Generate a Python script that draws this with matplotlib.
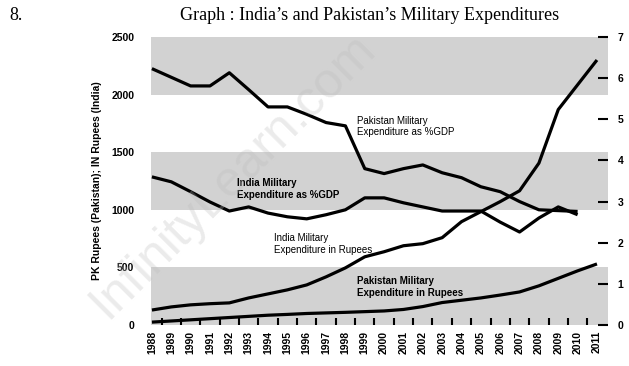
import matplotlib
matplotlib.use("Agg")
import matplotlib.pyplot as plt
import numpy as np

# values
years = list(range(1988, 2012))

india_rupees = [130, 157, 175, 185, 192, 235, 270, 305, 348, 418, 496, 592,
                636, 688, 706, 758, 897, 984, 1071, 1165, 1405, 1870, 2085, 2300]
pak_rupees = [25, 35, 45, 55, 65, 75, 85, 92, 100, 105, 110, 116,
              122, 135, 160, 195, 215, 235, 260, 287, 340, 405, 470, 530]

# %GDP series stop at 2010
gdp_years = list(range(1988, 2011))
pak_gdp = [6.23, 6.02, 5.81, 5.81, 6.13, 5.72, 5.30, 5.30, 5.12, 4.92, 4.84, 3.80,
           3.68, 3.80, 3.89, 3.70, 3.58, 3.36, 3.24, 3.00, 2.80, 2.78, 2.76]
india_gdp = [3.60, 3.48, 3.24, 2.99, 2.77, 2.87, 2.72, 2.63, 2.58, 2.68, 2.80, 3.09,
             3.09, 2.97, 2.87, 2.77, 2.77, 2.77, 2.50, 2.26, 2.60, 2.87, 2.68]

left_ticks = [0, 500, 1000, 1500, 2000, 2500]
right_ticks = [0, 1, 2, 3, 4, 5, 6, 7]
bands = [(0, 500), (1000, 1500), (2000, 2500)]

sans = ['Liberation Sans', 'DejaVu Sans']
serif = ['Liberation Serif', 'DejaVu Serif']

fig = plt.figure(figsize=(6.29, 3.66), dpi=100)
ax = fig.add_axes([0.240, 0.112, 0.7266, 0.787])
ax2 = ax.twinx()

for lo, hi in bands:
    ax.axhspan(lo, hi, color='#d2d2d2', lw=0, zorder=0)

ax.plot(years, india_rupees, color='black', lw=2.3, solid_capstyle='butt')
ax.plot(years, pak_rupees, color='black', lw=2.3, solid_capstyle='butt')
ax2.plot(gdp_years, pak_gdp, color='black', lw=2.3, solid_capstyle='butt')
ax2.plot(gdp_years, india_gdp, color='black', lw=2.3, solid_capstyle='butt')

ax.set_xlim(1987.95, 2011.57)
ax.set_ylim(0, 2500)
ax2.set_ylim(0, 7)

for a in (ax, ax2):
    for s in a.spines.values():
        s.set_visible(False)

ax.set_xticks(years)
ax.set_xticklabels([str(y) for y in years], rotation=90, family=sans,
                   fontsize=7.5, fontweight='bold')
ax.set_xticks([y + 0.5 for y in years[:-1]], minor=True)
ax.tick_params(axis='x', which='major', length=0, pad=4)
ax.tick_params(axis='x', which='minor', direction='in', length=5, width=1.5,
               color='black')

ax.set_yticks(left_ticks)
ax.set_yticklabels([str(v) for v in left_ticks], family=sans, fontsize=7.5,
                   fontweight='bold')
ax.tick_params(axis='y', length=0, pad=12)

ax2.set_yticks(right_ticks)
ax2.set_yticklabels([str(v) for v in right_ticks], family=sans, fontsize=7.5,
                    fontweight='bold')
ax2.tick_params(axis='y', direction='in', length=7.5, width=1.5, pad=7)

ax.set_ylabel('PK Rupees (Pakistan); IN Rupees (India)', family=sans,
              fontsize=7.5, fontweight='bold', labelpad=7)

# series labels
lab = dict(family=sans, fontsize=7, linespacing=1.2, va='top', ha='left')
ax.text(1998.6, 1815, 'Pakistan Military\nExpenditure as %GDP', **lab)
ax.text(1992.4, 1275, 'India Military\nExpenditure as %GDP',
        fontweight='bold', **lab)
ax.text(1994.3, 795, 'India Military\nExpenditure in Rupees', **lab)
ax.text(1998.6, 425, 'Pakistan Military\nExpenditure in Rupees',
        fontweight='bold', **lab)

# watermark of the scan
fig.text(0.37, 0.52, 'InfinityLearn.com', family=sans, fontsize=36,
         rotation=45, color='#bdbdbd', alpha=0.3, ha='center', va='center',
         zorder=10)

fig.text(0.015, 0.958, '8.', family=serif, fontsize=13, va='center')
fig.text(0.588, 0.958, 'Graph : India\u2019s and Pakistan\u2019s Military Expenditures',
         family=serif, fontsize=13, ha='center', va='center')

fig.savefig('out.png', dpi=100)
